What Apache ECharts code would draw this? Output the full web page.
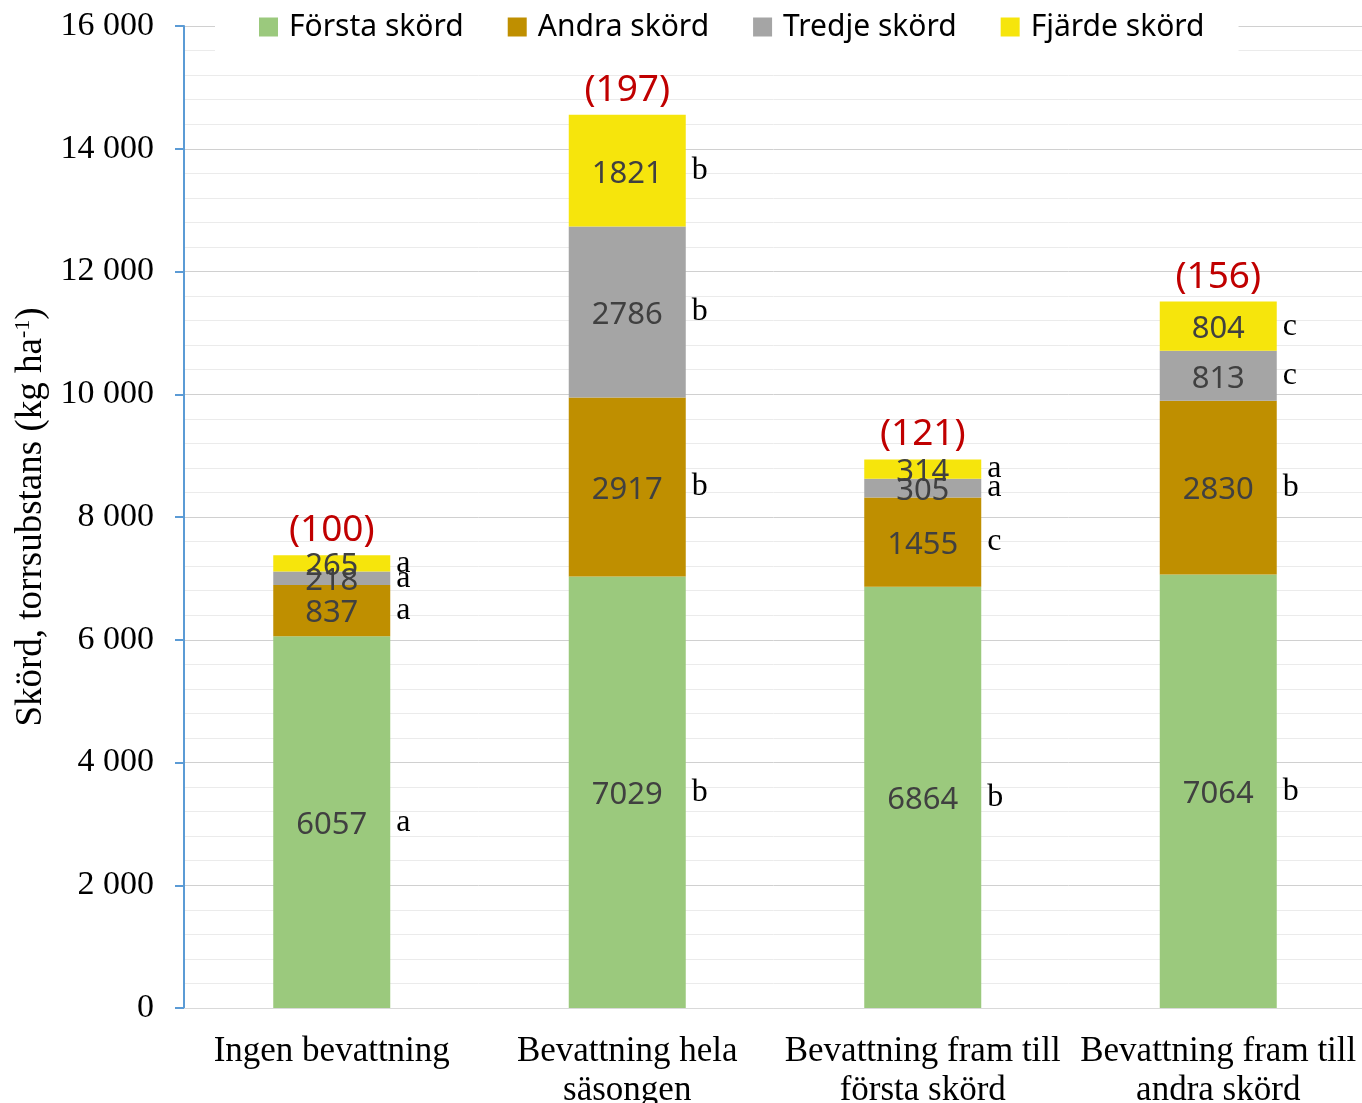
<!DOCTYPE html>
<html>
<head>
<meta charset="utf-8">
<script src="https://cdn.jsdelivr.net/npm/echarts@6/dist/echarts.min.js"></script>
<style>html,body{margin:0;padding:0;background:#fff}#c{width:1362px;height:1103px}</style>
</head>
<body>
<div id="c"></div>
<script>
const categories = ['Ingen bevattning', 'Bevattning hela\nsäsongen', 'Bevattning fram till\nförsta skörd', 'Bevattning fram till\nandra skörd'];
const seriesNames = ['Första skörd', 'Andra skörd', 'Tredje skörd', 'Fjärde skörd'];
const forsta = [6057, 7029, 6864, 7064];
const andra = [837, 2917, 1455, 2830];
const tredje = [218, 2786, 305, 813];
const fjarde = [265, 1821, 314, 804];
const lettersForsta = ['a', 'b', 'b', 'b'];
const lettersAndra = ['a', 'b', 'c', 'b'];
const lettersTredje = ['a', 'b', 'a', 'c'];
const lettersFjarde = ['a', 'b', 'a', 'c'];
const relIndex = [100, 197, 121, 156];
const yTicks = [0, 2000, 4000, 6000, 8000, 10000, 12000, 14000, 16000];

const colors = ['#9BC97D', '#BF8F00', '#A5A5A5', '#F6E50C'];
const BAR_W = 117;
const values = [forsta, andra, tredje, fjarde];
const letters = [lettersForsta, lettersAndra, lettersTredje, lettersFjarde];

// letter annotation data: [catIndex, base, top, seriesIndex]
const letterData = [];
const totals = categories.map(() => 0);
values.forEach((arr, s) => {
  arr.forEach((v, i) => {
    letterData.push([i, totals[i], totals[i] + v, s]);
    totals[i] += v;
  });
});
const totalData = totals.map((t, i) => [i, t, relIndex[i]]);

const chart = echarts.init(document.getElementById('c'));
const fmt = v => {
  const s = String(v);
  return s.length > 3 ? s.slice(0, s.length - 3) + ' ' + s.slice(-3) : s;
};

const barSeries = values.map((arr, s) => ({
  name: seriesNames[s],
  type: 'bar',
  stack: 'total',
  barWidth: BAR_W,
  data: arr,
  itemStyle: { color: colors[s] },
  label: {
    show: true,
    position: 'inside',
    offset: [0, 3],
    color: '#404040',
    fontFamily: 'Noto Sans',
    fontSize: 31,
    formatter: p => String(p.value)
  },
  z: 2
}));

chart.setOption({
  animation: false,
  color: colors,
  legend: {
    data: seriesNames,
    left: 215,
    top: 0,
    padding: [12, 34, 12, 44],
    backgroundColor: '#ffffff',
    icon: 'rect',
    itemWidth: 19,
    itemHeight: 19,
    itemGap: 44,
    textStyle: { fontFamily: 'Noto Sans', fontSize: 30, color: '#000', padding: [0, 0, 0, 6] },
    z: 10
  },
  grid: { left: 184, right: -4, top: 26, bottom: 95, containLabel: false, outerBoundsMode: 'none' },
  xAxis: {
    type: 'category',
    data: categories,
    axisLine: { show: true, lineStyle: { color: '#d9d9d9', width: 1 } },
    axisTick: { show: false },
    axisLabel: {
      fontFamily: 'Liberation Serif',
      fontSize: 35,
      color: '#000',
      margin: 24,
      lineHeight: 39,
      interval: 0
    }
  },
  yAxis: {
    type: 'value',
    min: 0,
    max: 16000,
    interval: 2000,
    name: '{n|Skörd, torrsubstans (kg ha}{s|-1}{n|)}',
    nameLocation: 'middle',
    nameGap: 132,
    nameTextStyle: {
      rich: {
        n: { fontFamily: 'Liberation Serif', fontSize: 37, color: '#000' },
        s: { fontFamily: 'Liberation Serif', fontSize: 22, color: '#000', verticalAlign: 'top', padding: [0, 0, 16, 0] }
      }
    },
    axisLine: { show: true, lineStyle: { color: '#5B9BD5', width: 2 } },
    axisTick: { show: true, length: 9, lineStyle: { color: '#5B9BD5', width: 2 } },
    axisLabel: {
      fontFamily: 'Liberation Serif',
      fontSize: 34,
      color: '#000',
      margin: 30,
      formatter: v => fmt(v)
    },
    splitLine: { show: true, lineStyle: { color: '#d0d0d0', width: 1 } },
    minorTick: { show: false, splitNumber: 5 },
    minorSplitLine: { show: true, lineStyle: { color: '#ebebeb', width: 1 } }
  },
  series: barSeries.concat([
    {
      type: 'custom',
      name: 'letters',
      data: letterData,
      encode: { x: 0, y: [1, 2] },
      z: 5,
      renderItem: (params, api) => {
        const i = api.value(0);
        const lo = api.value(1), hi = api.value(2), s = api.value(3);
        const p = api.coord([i, (lo + hi) / 2]);
        return {
          type: 'text',
          x: p[0] + BAR_W / 2 + 6,
          y: p[1],
          style: {
            text: letters[s][i],
            fontFamily: 'Liberation Serif',
            fontSize: 32,
            fill: '#000',
            verticalAlign: 'middle',
            align: 'left'
          }
        };
      }
    },
    {
      type: 'custom',
      name: 'index',
      data: totalData,
      encode: { x: 0, y: 1 },
      z: 5,
      renderItem: (params, api) => {
        const p = api.coord([api.value(0), api.value(1)]);
        return {
          type: 'text',
          x: p[0],
          y: p[1] - 6,
          style: {
            text: '(' + api.value(2) + ')',
            fontFamily: 'Noto Sans',
            fontSize: 37,
            fill: '#C00000',
            verticalAlign: 'bottom',
            align: 'center'
          }
        };
      }
    }
  ])
});
</script>
</body>
</html>
